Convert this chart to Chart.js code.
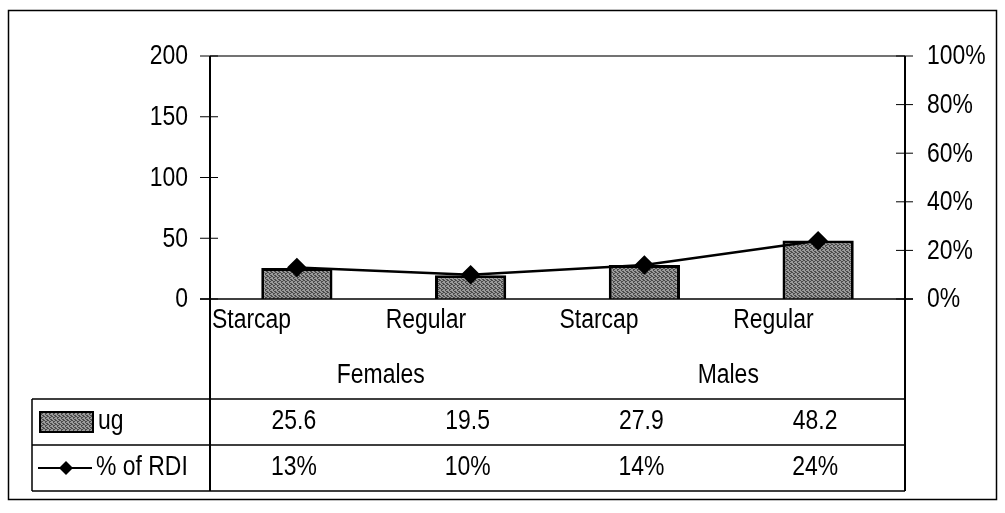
<!DOCTYPE html>
<html>
<head>
<meta charset="utf-8">
<script src="https://cdn.jsdelivr.net/npm/chart.js@4.4.0/dist/chart.umd.min.js"></script>
<style>
  html, body { margin: 0; padding: 0; background: #fff; }
  #wrap { width: 1005px; height: 513px; }
</style>
</head>
<body>
<div id="wrap"><canvas id="chart" width="1005" height="513"></canvas></div>
<script>
const categories = ["Starcap", "Regular", "Starcap", "Regular"];
const groups = ["Females", "Males"];
const ugValues = [25.6, 19.5, 27.9, 48.2];
const rdiPercent = [13, 10, 14, 24];
const leftTicks = [0, 50, 100, 150, 200];
const rightTicks = [0, 20, 40, 60, 80, 100];

// no Arial Narrow here, so squeeze Liberation Sans horizontally when drawing
const FONT = "'Liberation Sans', Arial, sans-serif";
const FSIZE = 27;
const SQUEEZE = 0.85;

// dithered grey fill like the old scanned excel bars
function makePattern() {
  const c = document.createElement("canvas");
  c.width = 4; c.height = 4;
  const g = c.getContext("2d");
  g.fillStyle = "#9a9a9a";
  g.fillRect(0, 0, 4, 4);
  g.fillStyle = "#4a4a4a";
  [[0,0],[2,1],[1,2],[3,3],[3,0],[1,1],[2,3]].forEach(p => g.fillRect(p[0], p[1], 1, 1));
  return g.createPattern(c, "repeat");
}
const barFill = makePattern();

function txt(ctx, s, x, y, align) {
  ctx.save();
  ctx.translate(x, y);
  ctx.scale(SQUEEZE, 1);
  ctx.textAlign = align;
  ctx.fillText(s, 0, 0);
  ctx.restore();
}

function diamond(ctx, x, y, r) {
  ctx.beginPath();
  ctx.moveTo(x, y - r); ctx.lineTo(x + r, y); ctx.lineTo(x, y + r); ctx.lineTo(x - r, y);
  ctx.closePath();
  ctx.fill();
}

const excelLook = {
  id: "excelLook",
  afterDraw(chart) {
    const ctx = chart.ctx;
    const a = chart.chartArea;
    const xs = chart.scales.x, yl = chart.scales.y, yr = chart.scales.y1;
    const half = (xs.getPixelForValue(1) - xs.getPixelForValue(0)) / 2;
    const tTop = a.bottom + 100, rowH = 46, tBot = tTop + rowH * 2, tLeft = 32;
    ctx.save();
    ctx.strokeStyle = "#000";
    ctx.fillStyle = "#000";

    // outer frame
    ctx.lineWidth = 1.5;
    ctx.strokeRect(8.5, 10.5, 988, 489);

    // plot box
    ctx.strokeStyle = "#444";
    ctx.beginPath();
    ctx.moveTo(a.left, a.top); ctx.lineTo(a.right, a.top);
    ctx.stroke();
    ctx.strokeStyle = "#000";
    ctx.lineWidth = 2;
    ctx.beginPath();
    ctx.moveTo(a.left, a.top); ctx.lineTo(a.left, tBot);
    ctx.moveTo(a.right, a.top); ctx.lineTo(a.right, tBot);
    ctx.stroke();
    ctx.lineWidth = 1.5;
    ctx.beginPath();
    ctx.moveTo(a.left - 10, a.bottom); ctx.lineTo(a.right + 8, a.bottom);
    ctx.stroke();

    ctx.font = FSIZE + "px " + FONT;
    ctx.textBaseline = "middle";

    // crossing tick marks + labels
    ctx.lineWidth = 1;
    leftTicks.forEach(v => {
      const y = yl.getPixelForValue(v);
      ctx.beginPath(); ctx.moveTo(a.left - 10, y); ctx.lineTo(a.left + 8, y); ctx.stroke();
      txt(ctx, String(v), a.left - 22, y + 1, "right");
    });
    rightTicks.forEach(v => {
      const y = yr.getPixelForValue(v);
      ctx.beginPath(); ctx.moveTo(a.right - 9, y); ctx.lineTo(a.right + 8, y); ctx.stroke();
      txt(ctx, v + "%", a.right + 22, y + 1, "left");
    });

    // category labels, left aligned in their slot
    categories.forEach((c, i) => {
      txt(ctx, c, xs.getPixelForValue(i) - half + 2, a.bottom + 22, "left");
    });
    // group labels
    groups.forEach((g, i) => {
      const x = (xs.getPixelForValue(i * 2) + xs.getPixelForValue(i * 2 + 1)) / 2;
      txt(ctx, g, x - 3, a.bottom + 77, "center");
    });

    // data table
    ctx.lineWidth = 1.5;
    ctx.beginPath();
    [tTop, tTop + rowH, tBot].forEach(y => { ctx.moveTo(tLeft, y); ctx.lineTo(a.right, y); });
    ctx.moveTo(tLeft, tTop); ctx.lineTo(tLeft, tBot);
    ctx.stroke();
    ugValues.forEach((v, i) => txt(ctx, v.toFixed(1), xs.getPixelForValue(i) - 3, tTop + rowH / 2, "center"));
    rdiPercent.forEach((v, i) => txt(ctx, v + "%", xs.getPixelForValue(i) - 3, tTop + rowH * 1.5, "center"));

    // legend keys inside table
    const r1 = tTop + rowH / 2, r2 = tTop + rowH * 1.5;
    ctx.fillStyle = barFill;
    ctx.fillRect(40, r1 - 10, 53, 20);
    ctx.lineWidth = 2;
    ctx.strokeRect(40, r1 - 10, 53, 20);
    ctx.fillStyle = "#000";
    txt(ctx, "ug", 98, r1, "left");
    ctx.beginPath(); ctx.moveTo(38, r2); ctx.lineTo(92, r2); ctx.stroke();
    diamond(ctx, 66, r2, 7);
    txt(ctx, "% of RDI", 96, r2, "left");
    ctx.restore();
  }
};

new Chart(document.getElementById("chart"), {
  data: {
    labels: categories,
    datasets: [
      {
        type: "line",
        label: "% of RDI",
        data: rdiPercent,
        yAxisID: "y1",
        borderColor: "#000",
        borderWidth: 2.5,
        pointStyle: "rectRot",
        pointRadius: 8,
        pointBackgroundColor: "#000",
        pointBorderColor: "#000",
        tension: 0
      },
      {
        type: "bar",
        label: "ug",
        data: ugValues,
        yAxisID: "y",
        backgroundColor: barFill,
        borderColor: "#000",
        borderWidth: 3,
        barPercentage: 0.41,
        categoryPercentage: 1
      }
    ]
  },
  options: {
    responsive: false,
    animation: false,
    layout: { padding: { top: 56, left: 0, right: 0, bottom: 0 } },
    plugins: { legend: { display: false }, tooltip: { enabled: false } },
    scales: {
      x: {
        grid: { display: false },
        border: { display: false },
        ticks: { display: false },
        afterFit: s => { s.height = 214; }
      },
      y: {
        position: "left",
        min: 0, max: 200,
        grid: { display: false },
        border: { display: false },
        ticks: { display: false, stepSize: 50 },
        afterFit: s => { s.width = 210; }
      },
      y1: {
        position: "right",
        min: 0, max: 100,
        grid: { display: false },
        border: { display: false },
        ticks: { display: false, stepSize: 20 },
        afterFit: s => { s.width = 100; }
      }
    }
  },
  plugins: [excelLook]
});
</script>
</body>
</html>
